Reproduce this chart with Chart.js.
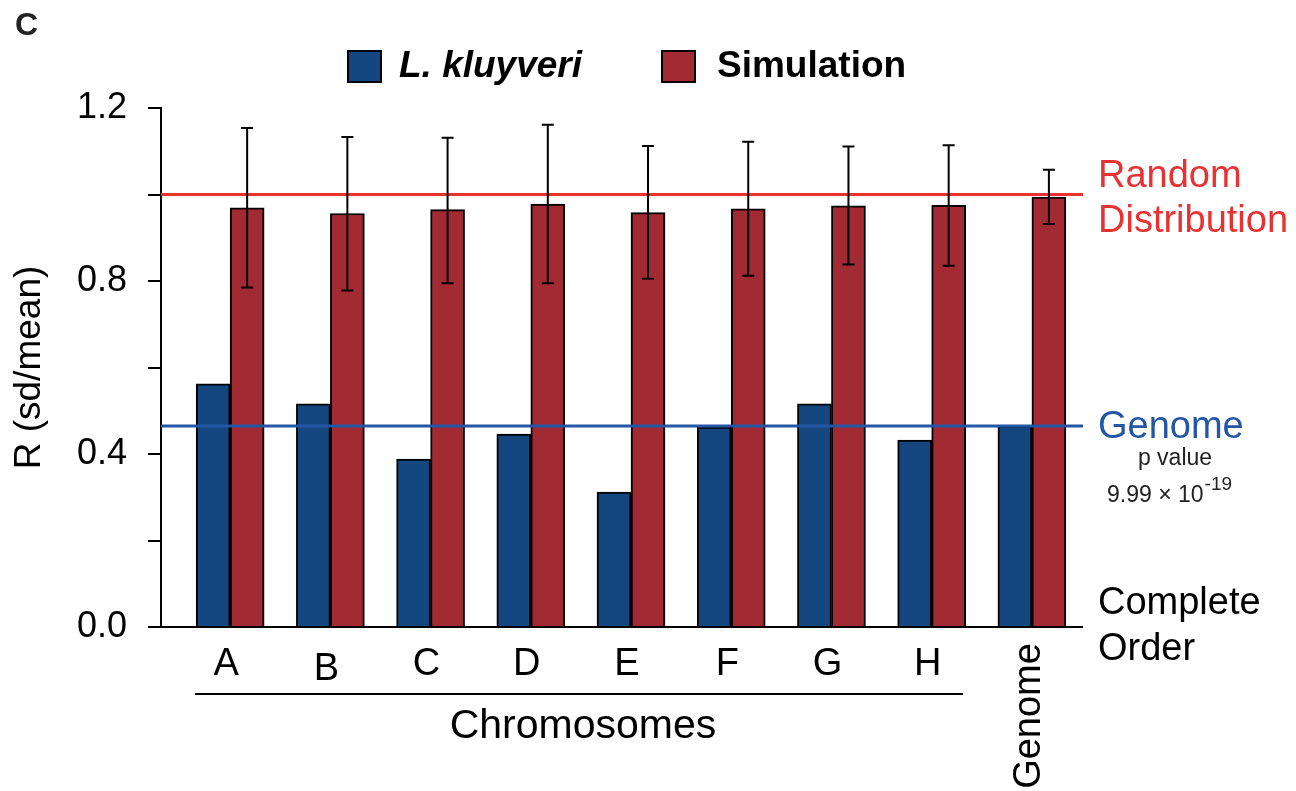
<!DOCTYPE html>
<html>
<head>
<meta charset="utf-8">
<script src="https://cdn.jsdelivr.net/npm/chart.js@4.4.1/dist/chart.umd.min.js"></script>
<style>
  html, body { margin: 0; padding: 0; background: #fff; }
  canvas { display: block; }
</style>
</head>
<body>
<canvas id="chart" width="1296" height="791"></canvas>
<script>
// categories on the x axis (last one is the whole genome)
const categories = ['A', 'B', 'C', 'D', 'E', 'F', 'G', 'H', 'Genome'];

// R (sd/mean) values
const kluyveri   = [0.562, 0.516, 0.388, 0.446, 0.312, 0.462, 0.516, 0.432, 0.465];
const simulation = [0.969, 0.956, 0.965, 0.978, 0.958, 0.967, 0.974, 0.975, 0.994];
const simLow     = [0.785, 0.778, 0.795, 0.795, 0.805, 0.812, 0.838, 0.835, 0.932];
const simHigh    = [1.154, 1.133, 1.131, 1.161, 1.112, 1.122, 1.111, 1.114, 1.057];

const yTicks = [0, 0.2, 0.4, 0.6, 0.8, 1.0, 1.2];
const randomLevel = 1.0;
const genomeLevel = 0.465;

const FONT = "'Liberation Sans', Arial, Helvetica, sans-serif";
const blueBar = '#14467f';
const redBar = '#a22b33';
const redLine = '#e83232';
const blueLine = '#2456a6';

// lines, error bars and all the extra labels of the figure
const annotate = {
    id: 'annotate',
    afterDatasetsDraw(chart) {
        const { ctx, chartArea, scales: { x, y } } = chart;
        ctx.save();

        // reference lines (drawn over the bars)
        ctx.lineWidth = 3;
        ctx.strokeStyle = redLine;
        let py = y.getPixelForValue(randomLevel);
        ctx.beginPath(); ctx.moveTo(chartArea.left, py); ctx.lineTo(chartArea.right + 1, py); ctx.stroke();
        ctx.strokeStyle = blueLine;
        py = y.getPixelForValue(genomeLevel);
        ctx.beginPath(); ctx.moveTo(chartArea.left, py); ctx.lineTo(chartArea.right + 1, py); ctx.stroke();

        // error bars on simulation
        ctx.strokeStyle = '#000';
        ctx.lineWidth = 2;
        const meta = chart.getDatasetMeta(1);
        meta.data.forEach((bar, i) => {
            const top = y.getPixelForValue(simHigh[i]);
            const bot = y.getPixelForValue(simLow[i]);
            ctx.beginPath();
            ctx.moveTo(bar.x, top); ctx.lineTo(bar.x, bot);
            ctx.moveTo(bar.x - 6, top); ctx.lineTo(bar.x + 6, top);
            ctx.moveTo(bar.x - 6, bot); ctx.lineTo(bar.x + 6, bot);
            ctx.stroke();
        });
        ctx.restore();
    },
    afterDraw(chart) {
        const { ctx, scales: { x } } = chart;
        ctx.save();
        ctx.textBaseline = 'middle';

        // panel letter
        ctx.fillStyle = '#222';
        ctx.font = 'bold 32px ' + FONT;
        ctx.textAlign = 'left';
        ctx.fillText('C', 15, 26);

        // legend
        ctx.lineWidth = 2;
        ctx.strokeStyle = '#000';
        ctx.fillStyle = blueBar;
        ctx.fillRect(348, 51, 33, 31); ctx.strokeRect(348, 51, 33, 31);
        ctx.fillStyle = redBar;
        ctx.fillRect(662, 51, 33, 31); ctx.strokeRect(662, 51, 33, 31);
        ctx.fillStyle = '#000';
        ctx.font = 'italic bold 37px ' + FONT;
        ctx.fillText('L. kluyveri', 399, 67);
        ctx.font = 'bold 37px ' + FONT;
        ctx.fillText('Simulation', 717, 67);

        // x category labels
        ctx.font = '38px ' + FONT;
        ctx.textAlign = 'center';
        categories.forEach((c, i) => {
            const px = x.getPixelForValue(i);
            if (c === 'Genome') {
                ctx.save();
                ctx.translate(px - 2, 716);
                ctx.rotate(-Math.PI / 2);
                ctx.fillText(c, 0, 0);
                ctx.restore();
            } else {
                ctx.fillText(c, px - 4, c === 'B' ? 670 : 665);
            }
        });

        // chromosome bracket
        ctx.beginPath();
        ctx.moveTo(195, 694); ctx.lineTo(963, 694);
        ctx.stroke();
        ctx.font = '41px ' + FONT;
        ctx.fillText('Chromosomes', 583, 727);

        // right-hand annotations
        ctx.font = '38px ' + FONT;
        ctx.textAlign = 'left';
        ctx.fillStyle = redLine;
        ctx.fillText('Random', 1098, 177);
        ctx.fillText('Distribution', 1098, 222);
        ctx.fillStyle = blueLine;
        ctx.fillText('Genome', 1098, 428);
        ctx.fillStyle = '#000';
        ctx.fillText('Complete', 1098, 604);
        ctx.fillText('Order', 1098, 650);

        ctx.fillStyle = '#222';
        ctx.font = '23px ' + FONT;
        ctx.textAlign = 'center';
        ctx.fillText('p value', 1175, 459);
        ctx.textAlign = 'left';
        const base = '9.99 \u00d7 10';
        ctx.fillText(base, 1107, 496);
        const w = ctx.measureText(base).width;
        ctx.font = '19px ' + FONT;
        ctx.fillText('-19', 1107 + w + 1, 485);

        ctx.restore();
    }
};

new Chart(document.getElementById('chart'), {
    type: 'bar',
    data: {
        datasets: [{
            label: 'L. kluyveri',
            data: kluyveri.map((v, i) => ({ x: i, y: v })),
            backgroundColor: blueBar,
            borderColor: '#000',
            borderWidth: 2,
            barThickness: 34
        }, {
            label: 'Simulation',
            data: simulation.map((v, i) => ({ x: i, y: v })),
            backgroundColor: redBar,
            borderColor: '#000',
            borderWidth: 2,
            barThickness: 34
        }]
    },
    options: {
        responsive: false,
        animation: false,
        devicePixelRatio: 1,
        layout: { padding: { left: 0, right: 214, top: 108, bottom: 164 } },
        plugins: {
            legend: { display: false },
            tooltip: { enabled: false }
        },
        scales: {
            x: {
                type: 'linear',
                min: -0.69,
                max: 8.5,
                offset: false,
                afterBuildTicks: s => { s.ticks = categories.map((c, i) => ({ value: i })); },
                afterFit: s => { s.height = 0; },
                ticks: { display: false },
                grid: { display: false, offset: false },
                border: { display: true, color: '#000', width: 2 }
            },
            y: {
                min: 0,
                max: 1.2,
                afterBuildTicks: s => { s.ticks = yTicks.map(v => ({ value: v })); },
                afterFit: s => { s.width = 161; },
                ticks: {
                    color: '#000',
                    padding: 21,
                    font: { family: FONT, size: 36 },
                    callback: (v, i) => (i % 2 === 0 ? Number(v).toFixed(1) : '')
                },
                grid: {
                    drawOnChartArea: false,
                    drawTicks: true,
                    tickLength: 13,
                    color: '#000',
                    lineWidth: 2
                },
                border: { display: true, color: '#000', width: 2 },
                title: {
                    display: true,
                    text: 'R (sd/mean)',
                    color: '#000',
                    font: { family: FONT, size: 37 },
                    padding: { top: 8, bottom: 0 }
                }
            }
        }
    },
    plugins: [annotate]
});
</script>
</body>
</html>
